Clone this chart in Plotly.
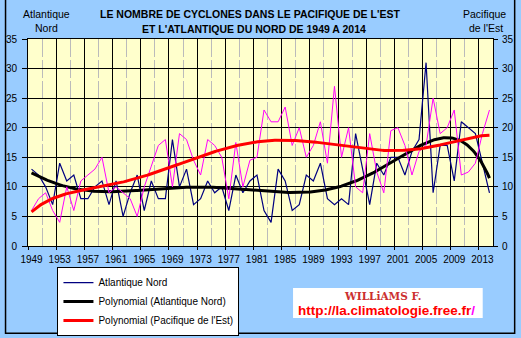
import numpy as np
import plotly.graph_objects as go

# ---------------- data ----------------
years = list(range(1949, 2015))
atlantique = [13,
              12, 10, 7, 14, 11, 12, 8, 8, 10, 11,
              7, 11, 5, 9, 12, 6, 11, 8, 8, 18,
              10, 13, 7, 8, 11, 9, 10, 6, 12, 9,
              11, 12, 6, 4, 13, 11, 6, 7, 12, 11,
              14, 8, 7, 8, 7, 19, 13, 7, 14, 12,
              15, 15, 12, 16, 18, 31, 9, 17, 17, 11,
              21, 20, 19, 14, 9]
pacifique = [6,
             8, 9, 6, 4, 10, 6, 11, 12, 13, 15,
             9, 10, 9, 8, 5, 10, 13.5, 17, 18, 10,
             19, 18, 14.5, 12, 18, 17, 15, 8, 17.5, 10,
             14.5, 15, 23, 21, 21, 23.5, 17, 20, 15, 17,
             21, 14, 27, 15, 20, 10, 9, 19, 12.5, 9,
             19.5, 20, 17, 12, 16, 17, 25, 19, 20, 23,
             12, 12.5, 14, 19, 23]
label_years = list(range(1949, 2014, 4))
y_ticks = [0, 5, 10, 15, 20, 25, 30, 35]

title_l1 = "LE NOMBRE DE CYCLONES DANS LE PACIFIQUE DE L'EST"
title_l2 = "ET L'ATLANTIQUE DU NORD DE 1949 A 2014"

# ---------------- polynomial trend lines (order 6, like the spreadsheet) ----------------
idx = np.arange(1, len(years) + 1)
fine = np.linspace(1, len(years), 400)
p_atl = np.polynomial.Polynomial.fit(idx, atlantique, 6)
p_pac = np.polynomial.Polynomial.fit(idx, pacifique, 6)
fine_years = years[0] + fine - 1

FONT = "Liberation Sans, Arial, sans-serif"

fig = go.Figure()
fig.add_trace(go.Scatter(x=years, y=pacifique, mode="lines", name="Pacifique de l'Est",
                         line=dict(color="#FF00FF", width=1), showlegend=False,
                         xaxis="x", yaxis="y2"))
fig.add_trace(go.Scatter(x=years, y=atlantique, mode="lines", name="Atlantique Nord",
                         line=dict(color="#000080", width=1.2)))
fig.add_trace(go.Scatter(x=fine_years, y=p_atl(fine), mode="lines",
                         name="Polynomial (Atlantique Nord)",
                         line=dict(color="#000000", width=3)))
fig.add_trace(go.Scatter(x=fine_years, y=p_pac(fine), mode="lines", yaxis="y2",
                         name="Polynomial (Pacifique de l'Est)",
                         line=dict(color="#FF0000", width=3)))

W, H = 521, 338
L, R, T, B = 27.5, 493.3, 39.3, 246.0
pw, ph = R - L, B - T


def px(x):
    return (x - L) / pw


def py(y):
    return (B - y) / ph


fig.update_layout(
    width=W, height=H,
    margin=dict(l=L, r=W - R, t=T, b=H - B, pad=0, autoexpand=False),
    paper_bgcolor="#99CCFF",
    plot_bgcolor="#FFFFCC",
    font=dict(family=FONT, size=10, color="#000000"),
    showlegend=True,
    legend=dict(x=px(57), y=py(267), xanchor="left", yanchor="top",
                bgcolor="#FFFFFF", bordercolor="#000000", borderwidth=1,
                font=dict(family=FONT, size=10), tracegroupgap=0,
                itemwidth=30),
    xaxis=dict(range=[1948.5, 2014.5], tickmode="linear", tick0=1948.5, dtick=4,
               ticks="outside", ticklen=3, tickcolor="#000000",
               showgrid=True, gridcolor="#000000", gridwidth=1.2,
               minor=dict(tick0=1948.5, dtick=2, showgrid=True, gridcolor="#BBBBBB",
                          griddash="18px,3px", ticks=""),
               showline=True, linecolor="#000000", linewidth=1, mirror=True,
               showticklabels=False, zeroline=False, fixedrange=True),
    xaxis2=dict(range=[1948.5, 2014.5], overlaying="x", anchor="y",
                tickmode="array", tickvals=label_years,
                ticktext=[str(v) for v in label_years],
                ticks="", showgrid=False, showline=False, zeroline=False,
                ticklabelstandoff=6, tickfont=dict(size=10)),
    yaxis=dict(range=[0, 35], tickmode="array", tickvals=y_ticks,
               ticks="outside", ticklen=5, tickcolor="#000000",
               showgrid=True, gridcolor="#000000", gridwidth=1.2,
               showline=True, linecolor="#000000", linewidth=1,
               zeroline=False, ticklabelstandoff=3, tickfont=dict(size=10)),
    yaxis2=dict(range=[0, 35], tickmode="array", tickvals=y_ticks,
                overlaying="y", side="right", anchor="x",
                ticks="outside", ticklen=4, tickcolor="#000000",
                showgrid=False, showline=True, linecolor="#000000", linewidth=1,
                zeroline=False, ticklabelstandoff=2, tickfont=dict(size=10)),
)

# invisible helper so the label axis is drawn
fig.add_trace(go.Scatter(x=[years[0]], y=[None], xaxis="x2", yaxis="y",
                         showlegend=False, hoverinfo="skip"))

ann = [
    dict(text="<b>" + title_l1 + "</b>", x=px(250), y=py(14.5)),
    dict(text="<b>" + title_l2 + "</b>", x=px(254), y=py(29.5)),
    dict(text="Atlantique", x=px(46.5), y=py(14.5)),
    dict(text="Nord", x=px(46.5), y=py(28.5)),
    dict(text="Pacifique", x=px(485), y=py(14.5)),
    dict(text="de l'Est", x=px(486), y=py(28.5)),
]
for a in ann:
    fig.add_annotation(xref="paper", yref="paper", xanchor="center", yanchor="middle",
                       showarrow=False, font=dict(family=FONT, size=10.5, color="#000000"),
                       **a)

# signature box
fig.add_shape(type="rect", xref="paper", yref="paper",
              x0=px(293), x1=px(483), y0=py(318), y1=py(288),
              fillcolor="#FFFFFF", line=dict(width=0), layer="above")
fig.add_annotation(xref="paper", yref="paper", x=px(383), y=py(296), showarrow=False,
                   text="<b>WILLiAMS F.</b>", xanchor="center", yanchor="middle",
                   font=dict(family="DejaVu Serif, serif", size=10.5, color="#CC3030"))
fig.add_annotation(xref="paper", yref="paper", x=px(387), y=py(310.5), showarrow=False,
                   text="<b>http://la.climatologie.free.fr<span style='color:#FF00FF'>/</span></b>",
                   xanchor="center", yanchor="middle",
                   font=dict(family=FONT, size=13.5, color="#FF0000"))

# chart-area border
fig.add_shape(type="rect", xref="paper", yref="paper",
              x0=px(5), x1=px(515), y0=py(333), y1=py(-10),
              line=dict(color="#000000", width=1.5), fillcolor="rgba(0,0,0,0)",
              layer="above")

fig.write_html("out.html")
